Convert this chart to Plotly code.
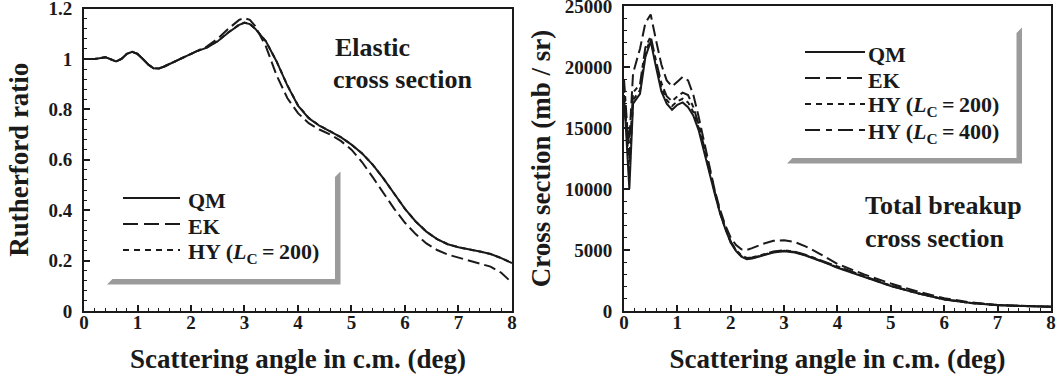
import plotly.graph_objects as go

W, H = 1057, 381

# ---------------- data: elastic (Rutherford ratio) ----------------
angle_el = [0, 0.2, 0.4, 0.5, 0.6, 0.7, 0.8, 0.9, 1.0, 1.1, 1.2, 1.3, 1.4, 1.5, 1.7, 1.9,
            2.1, 2.3, 2.5, 2.7, 2.9, 3.0, 3.1, 3.2, 3.4, 3.6, 3.8, 4.0, 4.2, 4.4, 4.6, 4.8,
            5.0, 5.2, 5.4, 5.6, 5.8, 6.0, 6.2, 6.4, 6.6, 6.8, 7.0, 7.2, 7.4, 7.6, 7.8, 8.0]
el_qm = [1.0, 1.0, 1.007, 0.997, 0.99, 1.0, 1.02, 1.028, 1.02, 1.0, 0.978, 0.963, 0.962, 0.97,
         0.99, 1.012, 1.03, 1.045, 1.07, 1.105, 1.135, 1.143, 1.138, 1.12, 1.07, 0.99, 0.895,
         0.815, 0.765, 0.735, 0.712, 0.69, 0.66, 0.625, 0.58, 0.525, 0.465, 0.405, 0.355, 0.315,
         0.285, 0.265, 0.253, 0.245, 0.236, 0.226, 0.21, 0.19]
el_ek = [1.0, 1.0, 1.007, 0.997, 0.99, 1.0, 1.02, 1.028, 1.02, 1.0, 0.978, 0.963, 0.962, 0.97,
         0.99, 1.012, 1.032, 1.05, 1.08, 1.12, 1.155, 1.162, 1.155, 1.13, 1.05, 0.935, 0.845,
         0.785, 0.745, 0.72, 0.7, 0.675, 0.64, 0.59, 0.53, 0.465, 0.405, 0.35, 0.305, 0.268,
         0.242, 0.224, 0.212, 0.202, 0.191, 0.176, 0.152, 0.112]
el_hy200 = [1.0, 1.0, 1.007, 0.997, 0.99, 1.0, 1.02, 1.028, 1.02, 1.0, 0.978, 0.963, 0.962, 0.97,
            0.99, 1.012, 1.03, 1.046, 1.071, 1.106, 1.136, 1.144, 1.139, 1.12, 1.07, 0.99, 0.896,
            0.816, 0.766, 0.736, 0.712, 0.69, 0.66, 0.625, 0.58, 0.525, 0.465, 0.405, 0.355, 0.315,
            0.285, 0.265, 0.253, 0.245, 0.236, 0.226, 0.21, 0.19]

# ---------------- data: total breakup cross section (mb/sr) ----------------
angle_bu = [0, 0.1, 0.17, 0.3, 0.4, 0.5, 0.6, 0.7, 0.8, 0.9, 1.0, 1.1, 1.2, 1.3, 1.4, 1.5,
            1.6, 1.7, 1.8, 1.9, 2.0, 2.1, 2.2, 2.3, 2.4, 2.6, 2.8, 3.0, 3.2, 3.4, 3.6, 3.8,
            4.0, 4.5, 5.0, 5.5, 6.0, 6.5, 7.0, 7.5, 8.0]
bu_qm = [17700, 10000, 17000, 17800, 20800, 22100, 20000, 18000, 17000, 16500, 16900, 17100,
         16700, 16000, 14800, 13000, 11300, 9600, 8000, 6700, 5600, 4900, 4450, 4250, 4300,
         4550, 4800, 4900, 4800, 4550, 4250, 3900, 3550, 2800, 2050, 1450, 950, 650, 480, 400, 340]
bu_ek = [16500, 14000, 19500, 21500, 23600, 24300, 22200, 20200, 18900, 18400, 18800, 19200,
         18900, 17700, 15900, 13800, 11700, 9900, 8300, 7000, 6000, 5400, 5050, 5000, 5150,
         5500, 5750, 5800, 5650, 5300, 4850, 4350, 3850, 3000, 2250, 1600, 1050, 700, 500, 410, 340]
bu_hy200 = [18300, 11200, 17300, 18100, 21200, 22300, 20200, 18300, 17300, 16800, 17200, 17400,
            17100, 16300, 15000, 13200, 11400, 9700, 8050, 6750, 5650, 4950, 4500, 4300, 4330,
            4580, 4830, 4930, 4830, 4580, 4270, 3920, 3570, 2820, 2060, 1460, 955, 655, 485, 405, 345]
bu_hy400 = [19000, 12500, 17900, 18600, 21600, 22500, 20500, 18700, 17600, 17200, 17600, 17900,
            17700, 16700, 15300, 13400, 11600, 9800, 8100, 6800, 5700, 5000, 4550, 4350, 4380,
            4620, 4870, 4970, 4870, 4620, 4300, 3950, 3600, 2850, 2080, 1470, 960, 660, 490, 410, 350]

el_yticks = [0, 0.2, 0.4, 0.6, 0.8, 1.0, 1.2]
el_yticktext = ["0", "0.2", "0.4", "0.6", "0.8", "1", "1.2"]
bu_yticks = [0, 5000, 10000, 15000, 20000, 25000]
bu_yticktext = ["0", "5000", "10000", "15000", "20000", "25000"]
x_ticks = [0, 1, 2, 3, 4, 5, 6, 7, 8]
x_ticktext = ["0", "1", "2", "3", "4", "5", "6", "7", "8"]

FONT = "Liberation Serif"
BLACK = "#1a1a1a"

def px(x):
    return x / W

def py(y):
    return 1 - y / H

styles = {
    "QM": dict(color=BLACK, width=2, dash="solid"),
    "EK": dict(color=BLACK, width=2, dash="12px,5px"),
    "HY200": dict(color=BLACK, width=2, dash="5px,4px"),
    "HY400": dict(color=BLACK, width=2, dash="13px,4px,5px,4px"),
}

fig = go.Figure()

for name, ys in [("HY200", el_hy200), ("EK", el_ek), ("QM", el_qm)]:
    fig.add_trace(go.Scatter(x=angle_el, y=ys, mode="lines", line=styles[name],
                             xaxis="x", yaxis="y", showlegend=False, name=name))
for name, ys in [("HY400", bu_hy400), ("HY200", bu_hy200), ("EK", bu_ek), ("QM", bu_qm)]:
    fig.add_trace(go.Scatter(x=angle_bu, y=ys, mode="lines", line=styles[name],
                             xaxis="x2", yaxis="y2", showlegend=False, name=name))

tickfont = dict(family=FONT, size=19, color=BLACK, weight="bold")
titlefont = dict(family=FONT, size=27, color=BLACK, weight="bold")

common_x = dict(range=[0, 8.0005], tickvals=x_ticks, ticktext=x_ticktext, ticks="inside",
                ticklen=6, tickwidth=1.5, automargin=False, ticklabeloverflow="allow",
                tickcolor=BLACK, showline=True, linewidth=2, linecolor=BLACK, mirror=True,
                showgrid=False, zeroline=False, tickfont=tickfont, ticklabelstandoff=-7,
                minor=dict(dtick=0.2, ticks="inside", ticklen=3, tickwidth=1, tickcolor=BLACK,
                           showgrid=False),
                title=dict(text="Scattering angle in c.m. (deg)", font=titlefont, standoff=17))
common_y = dict(ticks="inside", ticklen=6, tickwidth=1.5, tickcolor=BLACK, showline=True,
                linewidth=2, linecolor=BLACK, mirror=True, showgrid=False, zeroline=False,
                tickfont=tickfont, automargin=False, ticklabeloverflow="allow")

fig.update_layout(
    width=W, height=H,
    margin=dict(l=0, r=0, t=0, b=0, autoexpand=False),
    paper_bgcolor="white", plot_bgcolor="white",
    xaxis=dict(domain=[px(84), px(512)], anchor="y", **common_x),
    yaxis=dict(domain=[py(311), py(8.5)], anchor="x", range=[0, 1.2001], tickvals=el_yticks,
               ticktext=el_yticktext, ticklabelstandoff=6,
               minor=dict(dtick=0.04, ticks="inside", ticklen=3, tickwidth=1, tickcolor=BLACK,
                          showgrid=False),
               title=dict(text="Rutherford ratio", font=titlefont, standoff=12), **common_y),
    xaxis2=dict(domain=[px(624), px(1051)], anchor="y2", **common_x),
    yaxis2=dict(domain=[py(311), py(6)], anchor="x2", range=[0, 25001], tickvals=bu_yticks,
                ticktext=bu_yticktext, ticklabelstandoff=6,
                minor=dict(dtick=1000, ticks="inside", ticklen=3, tickwidth=1, tickcolor=BLACK,
                           showgrid=False),
                title=dict(text="Cross section (mb / sr)", font=titlefont, standoff=6), **common_y),
)

shapes = []
annotations = []
SHADOW = "#9b9b9b"

def shadow_path(x_left, x_in, x_out, y_top, y_in, y_out, b=5.5):
    pts = [(x_in, y_top + b), (x_out, y_top), (x_out, y_out), (x_left, y_out),
           (x_left + b, y_in), (x_in, y_in)]
    return "M " + " L ".join(f"{px(a):.5f},{py(c):.5f}" for a, c in pts) + " Z"

shapes.append(dict(type="path", xref="paper", yref="paper", line=dict(width=0),
                   fillcolor=SHADOW, path=shadow_path(107, 335, 340.5, 171.5, 279, 284.5)))
shapes.append(dict(type="path", xref="paper", yref="paper", line=dict(width=0),
                   fillcolor=SHADOW, path=shadow_path(787, 1016.5, 1022, 27.5, 158, 163.5)))

legfont = dict(family=FONT, size=22, color=BLACK, weight="bold")

def legend_entry(x0, x1, y, dash, text, xt):
    shapes.append(dict(type="line", xref="paper", yref="paper", x0=px(x0), x1=px(x1),
                       y0=py(y), y1=py(y), line=dict(color=BLACK, width=2, dash=dash)))
    annotations.append(dict(xref="paper", yref="paper", x=px(xt), y=py(y + 2.5), text=text,
                            showarrow=False, xanchor="left", yanchor="middle", font=legfont))

hy200 = "HY (<i>L</i><sub>C</sub>\u2009=\u2009200)"
hy400 = "HY (<i>L</i><sub>C</sub>\u2009=\u2009400)"
legend_entry(123, 180, 198, "solid", "QM", 186)
legend_entry(123, 180, 224, "15px,6px", "EK", 186)
legend_entry(123, 180, 250, "6px,5px", hy200, 186)

legend_entry(805, 865, 52, "solid", "QM", 866)
legend_entry(805, 865, 78, "15px,6px", "EK", 866)
legend_entry(805, 865, 104, "6px,5px", hy200, 866)
legend_entry(805, 865, 130, "15px,6px,6px,6px", hy400, 866)

labfont = dict(family=FONT, size=26, color=BLACK, weight="bold")
for text, x, y in [("Elastic", 333, 47), ("cross section", 331, 79),
                   ("Total breakup", 863, 205), ("cross section", 863, 238)]:
    annotations.append(dict(xref="paper", yref="paper", x=px(x), y=py(y), text=text,
                            showarrow=False, xanchor="left", yanchor="middle", font=labfont))

fig.update_layout(shapes=shapes, annotations=annotations)
fig.write_html("out.html", config={"displayModeBar": False},
               post_script="document.body.style.margin='0';document.body.style.overflow='hidden';")
